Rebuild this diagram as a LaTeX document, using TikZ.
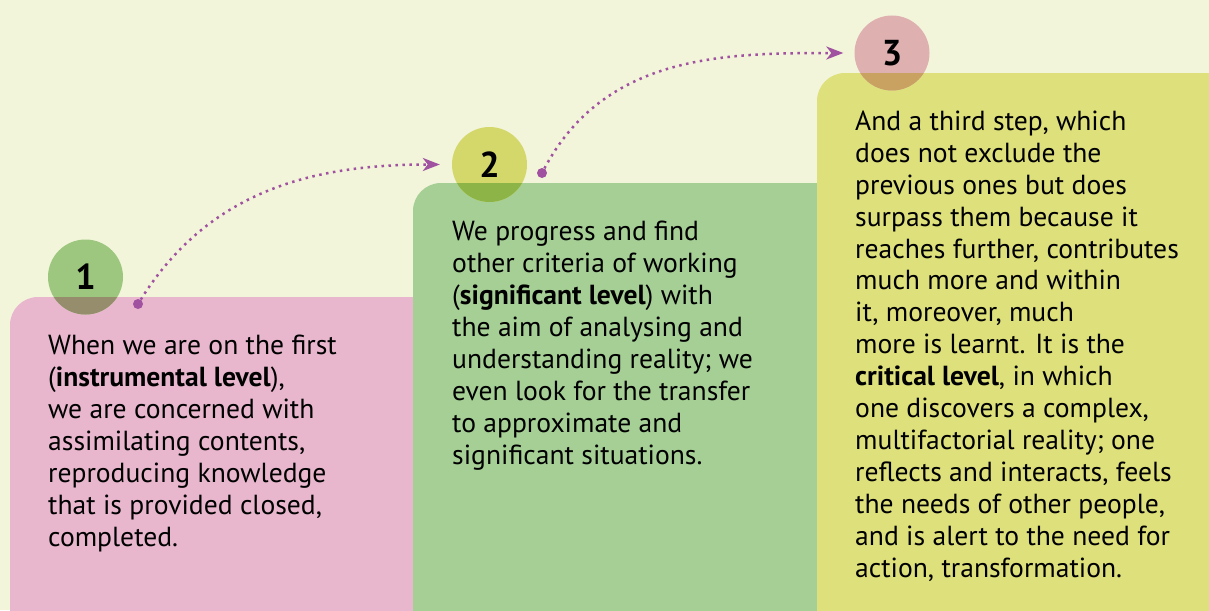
\documentclass[tikz,border=0pt]{standalone}
\RequirePackage{fontspec}
\setmainfont{PT Sans}
\usetikzlibrary{arrows.meta}

\definecolor{bgcream}{HTML}{F2F5DA}
\definecolor{boxpink}{HTML}{E8B7CE}
\definecolor{boxgreen}{HTML}{A6CF96}
\definecolor{boxyellow}{HTML}{DEE07C}
\definecolor{dotgreen}{HTML}{9DC77E}
\definecolor{dotlime}{HTML}{D4D86A}
\definecolor{dotrose}{HTML}{DFB0B0}
\definecolor{mixone}{HTML}{958D6C}
\definecolor{mixtwo}{HTML}{8CB446}
\definecolor{mixthree}{HTML}{C9A262}
\definecolor{arrowpurple}{HTML}{A052A0}

\tikzset{
  stepbox/.style={rounded corners=28pt},
  numcircle/.style={circle, minimum size=75pt, inner sep=0pt,
    font=\fontsize{36}{36}\selectfont\bfseries},
  steptext/.style={anchor=base west, align=left, inner sep=0pt,
    font=\fontsize{27.6}{31.9}\selectfont},
  startdot/.style={circle, fill=arrowpurple, minimum size=10pt, inner sep=0pt},
  stepline/.style={arrowpurple, line width=2.5pt, dash pattern=on 2.5pt off 4.5pt,
    -{Stealth[length=17pt,width=13pt,inset=5pt]}}
}

\begin{document}
\begin{tikzpicture}[x=1pt,y=-1pt]
  \useasboundingbox (0,0) rectangle (1209,610);
  \fill[bgcream] (0,0) rectangle (1209,610);

  \fill[boxpink,stepbox] (10,660) -- (10,297) -- (460,297) -- (460,660) -- cycle;
  \fill[boxgreen,stepbox] (413,660) -- (413,183) -- (860,183) -- (860,660) -- cycle;
  \fill[boxyellow,stepbox] (817,660) -- (817,73) -- (1260,73) -- (1260,660) -- cycle;

  \fill[dotgreen] (85.5,277) circle (37.5);
  \fill[dotlime] (489.5,164.5) circle (37.5);
  \fill[dotrose] (892,53) circle (37.5);
  \begin{scope}
    \clip (0,297) rectangle (413,610);
    \fill[mixone] (85.5,277) circle (37.5);
  \end{scope}
  \begin{scope}
    \clip (413,183) rectangle (817,610);
    \fill[mixtwo] (489.5,164.5) circle (37.5);
  \end{scope}
  \begin{scope}
    \clip (817,73) rectangle (1209,610);
    \fill[mixthree] (892,53) circle (37.5);
  \end{scope}

  \node[numcircle] (n1) at (85.5,277) {1};
  \node[numcircle] (n2) at (489.5,164.5) {2};
  \node[numcircle] (n3) at (892,53) {3};

  \node[steptext] (t1) at (48,546) {When we are on the first\\
    (\textbf{instrumental level}),\\
    we are concerned with\\
    assimilating contents,\\
    reproducing knowledge\\
    that is provided closed,\\
    completed.};
  \node[steptext] (t2) at (452,464) {We progress and find\\
    other criteria of working\\
    (\textbf{significant level}) with\\
    the aim of analysing and\\
    understanding reality; we\\
    even look for the transfer\\
    to approximate and\\
    significant situations.};
  \node[steptext] (t3) at (855,577) {And a third step, which\\
    does not exclude the\\
    previous ones but does\\
    surpass them because it\\
    reaches further, contributes\\
    much more and within\\
    it, moreover, much\\
    more is learnt. It is the\\
    \textbf{critical level}, in which\\
    one discovers a complex,\\
    multifactorial reality; one\\
    reflects and interacts, feels\\
    the needs of other people,\\
    and is alert to the need for\\
    action, transformation.};

  \node[startdot] (d1) at (138,304) {};
  \node[startdot] (d2) at (542,173) {};
  \draw[stepline, shorten >=12pt] (d1) to[out=58,in=180] (n2.west);
  \draw[stepline, shorten >=11pt] (d2) to[out=62,in=180] (n3.west);
\end{tikzpicture}
\end{document}
